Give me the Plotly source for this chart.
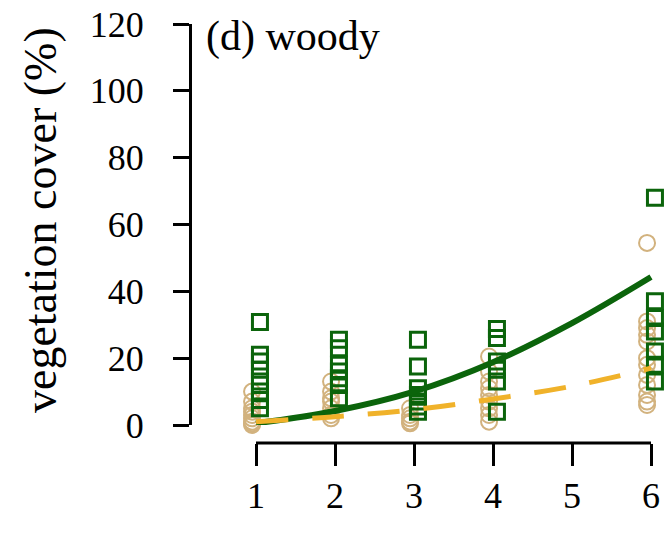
import plotly.graph_objects as go

# ---- data ----
site_ticks = [1, 2, 3, 4, 5, 6]
y_ticks = [0, 20, 40, 60, 80, 100, 120]

sq_x = [1]*8 + [2]*7 + [3]*7 + [4]*6 + [6]*7
sq_y = [30.8, 21, 19, 16.5, 13, 10, 7.5, 5,
        25.5, 23, 18, 16, 14, 12, 8,
        25.5, 17.5, 11, 9, 7, 5.5, 4,
        28.7, 26, 19, 16.5, 13, 4,
        68, 37, 32, 28, 22, 18, 13]

ci_x = [1]*9 + [2]*7 + [3]*5 + [4]*9 + [6]*12
ci_y = [10, 7, 5, 4, 3, 2, 1, 0.5, 0,
        13, 10, 8, 7, 5, 3, 2,
        5, 3, 2, 1, 0.5,
        20.5, 16, 13, 11, 9, 7, 5, 3, 1,
        54.5, 31, 29, 27, 25, 20, 18, 15, 12, 9, 7, 6]

fit_x = [1, 2, 3, 4, 5, 6]
green_fit = [0.5, 4.2, 10.0, 18.8, 30.5, 44.3]
orange_fit = [1.0, 2.5, 4.6, 7.8, 11.6, 17.0]

# ---- style ----
W, H = 667, 534
GREEN = "#0b640b"
TAN = "#d2b27e"
ORANGE = "#f0b22a"
FONT = "Liberation Serif"
OFF = 0.05
PAD = 0.15           # extra x range beyond the ticks
PX_PER_X = 79.0      # pixels per x unit
X_AX_Y = (H - 443) / H

fig = go.Figure()
fig.add_trace(go.Scatter(x=[v - OFF for v in ci_x], y=ci_y, mode="markers",
                         marker=dict(symbol="circle-open", size=16, color=TAN, line=dict(width=2, color=TAN)),
                         cliponaxis=False, showlegend=False))
fig.add_trace(go.Scatter(x=[v + OFF for v in sq_x], y=sq_y, mode="markers",
                         marker=dict(symbol="square-open", size=15, color=GREEN, line=dict(width=3, color=GREEN)),
                         cliponaxis=False, showlegend=False))
fig.add_trace(go.Scatter(x=fit_x, y=green_fit, mode="lines", line=dict(color=GREEN, width=6, shape="spline"),
                         cliponaxis=False, showlegend=False))
fig.add_trace(go.Scatter(x=fit_x, y=orange_fit, mode="lines",
                         line=dict(color=ORANGE, width=5, shape="spline", dash="32px,24px"),
                         cliponaxis=False, showlegend=False))

x0, x1 = site_ticks[0], site_ticks[-1]
fig.update_layout(
    template="none",
    width=W, height=H, margin=dict(l=0, r=0, t=0, b=0, autoexpand=False),
    paper_bgcolor="white", plot_bgcolor="white",
    font=dict(family=FONT, size=36, color="black"),
    xaxis=dict(domain=[(256 - PAD*PX_PER_X)/W, (651 + PAD*PX_PER_X)/W], range=[x0 - PAD, x1 + PAD],
               anchor="free", position=X_AX_Y, automargin=False,
               showgrid=False, zeroline=False, showline=False,
               ticks="outside", ticklen=22, tickwidth=3, tickcolor="black",
               tickvals=site_ticks, ticktext=[str(t) for t in site_ticks], ticklabelstandoff=-1),
    yaxis=dict(domain=[(H-425)/H, (H-24)/H], range=[y_ticks[0], y_ticks[-1]], anchor="free", position=190/W,
               automargin=False,
               showgrid=False, zeroline=False, showline=True, linecolor="black", linewidth=3,
               ticks="outside", ticklen=16, tickwidth=3, tickcolor="black",
               tickvals=y_ticks, ticktext=[str(t) for t in y_ticks], ticklabelstandoff=22),
    shapes=[dict(type="line", xref="x", yref="paper", x0=x0, x1=x1, y0=X_AX_Y, y1=X_AX_Y,
                 line=dict(color="black", width=3))],
    annotations=[
        dict(text="vegetation cover (%)", x=40/W, y=(H-220)/H, xref="paper", yref="paper",
             showarrow=False, textangle=-90, font=dict(family=FONT, size=46),
             xanchor="center", yanchor="middle"),
        dict(text="(d) woody", x=204/W, y=(H-37)/H, xref="paper", yref="paper",
             showarrow=False, font=dict(family=FONT, size=42), xanchor="left", yanchor="middle"),
    ],
)
fig.write_html("out.html")
